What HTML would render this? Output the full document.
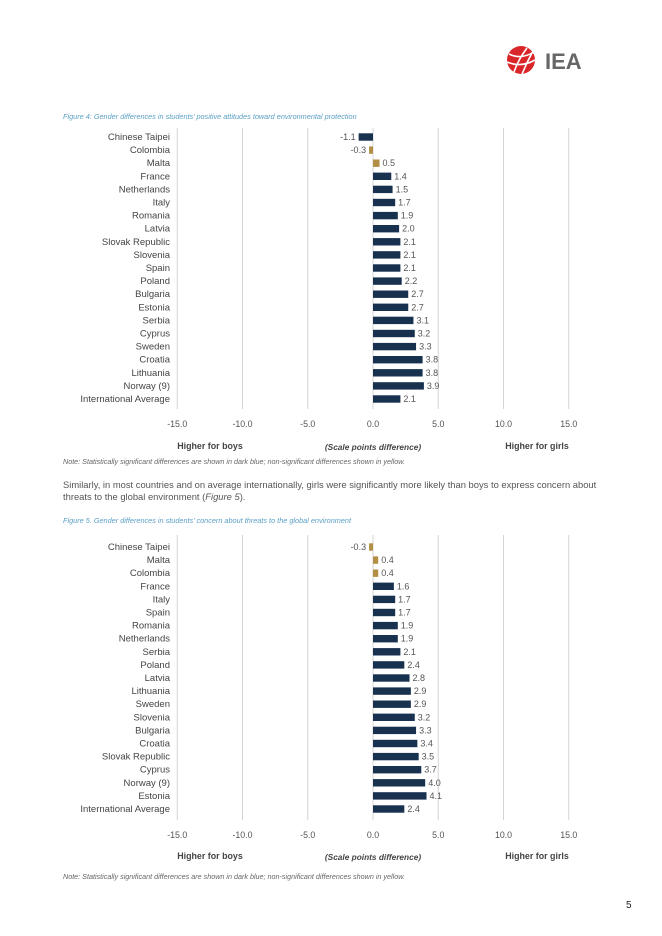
<!DOCTYPE html>
<html><head><meta charset="utf-8">
<style>
html,body{margin:0;padding:0;background:#fff;}
body{width:662px;height:936px;position:relative;overflow:hidden;font-family:"Liberation Sans",sans-serif;}
svg{position:absolute;left:0;top:0;}
</style></head>
<body>
<svg id="page" width="662" height="936" xmlns="http://www.w3.org/2000/svg" font-family="Liberation Sans, sans-serif">
  <g>
    <circle cx="521" cy="60" r="14" fill="#d9262a"/>
    <path d="M509 54 Q521 60 534 52 M507 62 Q521 68 535 60 M514 72 Q518 60 527 48 M522 74 Q527 62 533 51" stroke="#fff" stroke-width="1.6" fill="none"/>
    <text x="545" y="69" font-size="22" font-weight="bold" fill="#666">IEA</text>
  </g>
  <text x="63" y="119" font-size="7.3" font-style="italic" fill="#5a9fc4">Figure 4: Gender differences in students’ positive attitudes toward environmental protection</text>
  <g id="chart1"></g>
  <text x="63" y="464" font-size="7.2" font-style="italic" fill="#666">Note: Statistically significant differences are shown in dark blue; non-significant differences shown in yellow.</text>
  <text font-size="9.4" fill="#555"><tspan x="63" y="488">Similarly, in most countries and on average internationally, girls were significantly more likely than boys to express concern about</tspan><tspan x="63" y="500">threats to the global environment (<tspan font-style="italic">Figure 5</tspan>).</tspan></text>
  <text x="63" y="523" font-size="7.3" font-style="italic" fill="#5a9fc4">Figure 5. Gender differences in students’ concern about threats to the global environment</text>
  <g id="chart2"></g>
  <text x="63" y="879" font-size="7.2" font-style="italic" fill="#666">Note: Statistically significant differences are shown in dark blue; non-significant differences shown in yellow.</text>
  <text x="626" y="908" font-size="10" fill="#222">5</text>
</svg>
<script>
const ticks = [-15, -10, -5, 0, 5, 10, 15];
const tickLabels = ["-15.0","-10.0","-5.0","0.0","5.0","10.0","15.0"];
const cats1 = ["Chinese Taipei","Colombia","Malta","France","Netherlands","Italy","Romania","Latvia","Slovak Republic","Slovenia","Spain","Poland","Bulgaria","Estonia","Serbia","Cyprus","Sweden","Croatia","Lithuania","Norway (9)","International Average"];
const vals1 = [-1.1,-0.3,0.5,1.4,1.5,1.7,1.9,2.0,2.1,2.1,2.1,2.2,2.7,2.7,3.1,3.2,3.3,3.8,3.8,3.9,2.1];
const sig1 = [1,0,0,1,1,1,1,1,1,1,1,1,1,1,1,1,1,1,1,1,1];
const cats2 = ["Chinese Taipei","Malta","Colombia","France","Italy","Spain","Romania","Netherlands","Serbia","Poland","Latvia","Lithuania","Sweden","Slovenia","Bulgaria","Croatia","Slovak Republic","Cyprus","Norway (9)","Estonia","International Average"];
const vals2 = [-0.3,0.4,0.4,1.6,1.7,1.7,1.9,1.9,2.1,2.4,2.8,2.9,2.9,3.2,3.3,3.4,3.5,3.7,4.0,4.1,2.4];
const sig2 = [0,0,0,1,1,1,1,1,1,1,1,1,1,1,1,1,1,1,1,1,1];

const NS = "http://www.w3.org/2000/svg";
function xs(v){ return 373 + v * 13.05; }
function mk(tag, attrs, parent){
  const e = document.createElementNS(NS, tag);
  for (const k in attrs) e.setAttribute(k, attrs[k]);
  parent.appendChild(e);
  return e;
}
function draw(gid, cats, vals, sig, top, gridTop, gridBot, tickY, labY){
  const g = document.getElementById(gid);
  const step = 13.1;
  function ys(i){ return top + i * step; }
  ticks.forEach((t, i) => {
    const l = mk("line", {x1:xs(t), x2:xs(t), y1:gridTop, y2:gridBot, stroke:"#d4d4d4", "stroke-width":1}, g);
    
    
    const tx = mk("text", {x:xs(t), y:tickY, "font-size":8.8, fill:"#555", "text-anchor":"middle"}, g);
    tx.textContent = tickLabels[i];
    
    
  });
  cats.forEach((c, i) => {
    const y = ys(i);
    const lab = mk("text", {x:170, y:y+3, "font-size":9.5, fill:"#444", "text-anchor":"end"}, g);
    lab.textContent = c;
    
    
    const v = vals[i];
    const x0 = Math.min(xs(0), xs(v)), w = Math.abs(xs(v) - xs(0));
    const r = mk("rect", {x:x0, y:y-3.7, width:w, height:7.4, fill: sig[i] ? "#17314f" : "#b38f45"}, g);
    
    
    const vt = mk("text", {x: v >= 0 ? xs(v)+3 : xs(v)-3, y:y+3, "font-size":9, fill:"#555", "text-anchor": v >= 0 ? "start" : "end"}, g);
    vt.textContent = v.toFixed(1);
    
    
  });
  const b = mk("text", {x:210, y:labY, "font-size":8.9, "font-weight":"bold", fill:"#444", "text-anchor":"middle"}, g);
  b.textContent = "Higher for boys";
  
  
  const s = mk("text", {x:373, y:labY+1, "font-size":8.3, "font-weight":"bold", "font-style":"italic", fill:"#444", "text-anchor":"middle"}, g);
  s.textContent = "(Scale points difference)";
  
  
  const gl = mk("text", {x:537, y:labY, "font-size":8.9, "font-weight":"bold", fill:"#444", "text-anchor":"middle"}, g);
  gl.textContent = "Higher for girls";
  
  
}
draw("chart1", cats1, vals1, sig1, 137, 128, 409, 427, 449);
draw("chart2", cats2, vals2, sig2, 547, 535, 820, 838, 859);
</script>
</body></html>
